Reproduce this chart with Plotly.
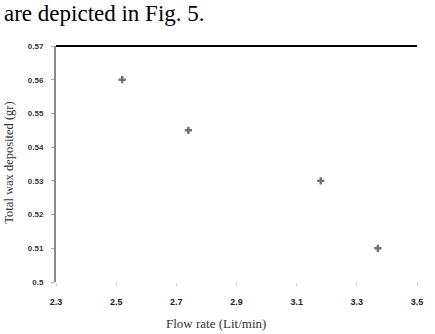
import plotly.graph_objects as go

flow_rate = [2.52, 2.74, 3.18, 3.37]
wax_deposited = [0.560, 0.545, 0.530, 0.510]
x_ticks = [2.3, 2.5, 2.7, 2.9, 3.1, 3.3, 3.5]
y_ticks = [0.50, 0.51, 0.52, 0.53, 0.54, 0.55, 0.56, 0.57]

W, H = 435, 334
L, R, T, B = 56, 13, 46, 52
pw, ph = W - L - R, H - T - B

fig = go.Figure()
fig.add_trace(go.Scatter(
    x=flow_rate, y=wax_deposited, mode="markers",
    marker=dict(symbol="cross", size=6, color="#707070"),
    showlegend=False,
))

fig.update_layout(
    width=W, height=H,
    margin=dict(l=L, r=R, t=T, b=B),
    paper_bgcolor="white", plot_bgcolor="white",
    xaxis=dict(range=[2.3, 3.5], tickvals=x_ticks, ticktext=[f"{v:.1f}" for v in x_ticks],
               showgrid=False, zeroline=False, showline=False,
               ticks="outside", ticklen=3, tickcolor="#cccccc", tickwidth=1,
               tickfont=dict(family="Arial", size=9, color="#222222", weight="bold"),
               ticklabelstandoff=8),
    yaxis=dict(range=[0.5, 0.57], tickvals=y_ticks,
               ticktext=[("0.5" if v == 0.5 else f"{v:.2f}") for v in y_ticks],
               showgrid=False, zeroline=False, showline=True, linecolor="#8a8a8a", linewidth=2,
               ticks="outside", ticklen=3, tickcolor="#aaaaaa", tickwidth=1,
               tickfont=dict(family="Arial", size=8, color="#333333", weight="bold"),
               ticklabelstandoff=6),
    shapes=[dict(type="line", xref="paper", yref="paper", x0=0, x1=1, y0=1, y1=1,
                 line=dict(color="black", width=2))],
    annotations=[
        dict(text="are depicted in Fig. 5.", xref="paper", yref="paper",
             x=(1 - L) / pw, y=(H - B - 14) / ph, xanchor="left", yanchor="middle",
             showarrow=False, font=dict(family="Liberation Serif", size=23, color="black")),
        dict(text="Total wax deposited (gr)", xref="paper", yref="paper",
             x=(8 - L) / pw, y=(H - B - 163) / ph, xanchor="center", yanchor="middle",
             textangle=-90, showarrow=False,
             font=dict(family="Liberation Serif", size=12.5, color="#333333")),
        dict(text="Flow rate (Lit/min)", xref="paper", yref="paper",
             x=(218 - L) / pw, y=(H - B - 323) / ph, xanchor="center", yanchor="middle",
             showarrow=False, font=dict(family="Liberation Serif", size=13, color="#333333")),
    ],
)

fig.write_html("out.html")
